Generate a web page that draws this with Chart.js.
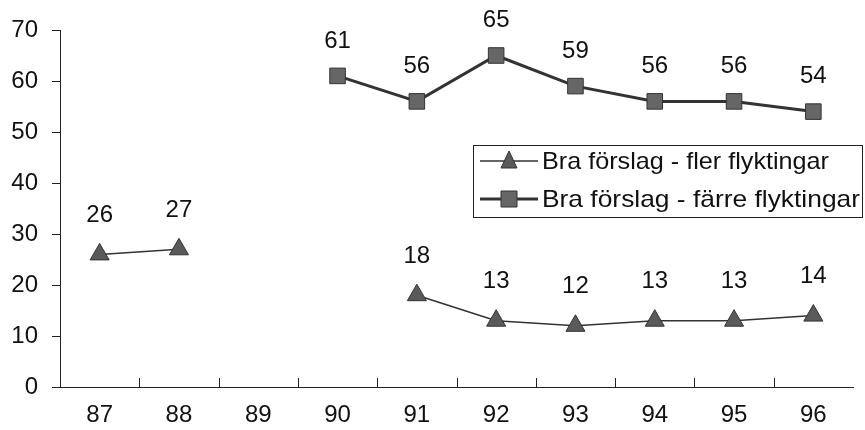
<!DOCTYPE html>
<html>
<head>
<meta charset="utf-8">
<script src="https://cdn.jsdelivr.net/npm/chart.js@4.4.1/dist/chart.umd.min.js"></script>
<style>
  html, body { margin: 0; padding: 0; background: #fff; }
  #wrap { width: 865px; height: 430px; }
</style>
</head>
<body>
<div id="wrap"><canvas id="chart" width="865" height="430"></canvas></div>
<script>
  // ---- data ----
  const years = ["87", "88", "89", "90", "91", "92", "93", "94", "95", "96"];
  const flerValues = [26, 27, null, null, 18, 13, 12, 13, 13, 14];
  const farreValues = [null, null, null, 61, 56, 65, 59, 56, 56, 54];
  const seriesNames = ["Bra förslag - fler flyktingar", "Bra förslag - färre flyktingar"];

  const FONT = "'Liberation Sans', Arial, sans-serif";
  const labelOffsets = [39, 35];

  // value labels above each point
  const valueLabels = {
    id: "valueLabels",
    afterDatasetsDraw(chart) {
      const ctx = chart.ctx;
      ctx.save();
      ctx.font = "24px " + FONT;
      ctx.fillStyle = "#111";
      ctx.textAlign = "center";
      ctx.textBaseline = "middle";
      chart.data.datasets.forEach((ds, i) => {
        const meta = chart.getDatasetMeta(i);
        meta.data.forEach((pt, j) => {
          const v = ds.data[j];
          if (v == null) return;
          ctx.fillText(String(v), pt.x, pt.y - labelOffsets[i]);
        });
      });
      ctx.restore();
    }
  };

  // x-axis tick marks between categories, pointing up
  const xTicks = {
    id: "xTicks",
    afterDraw(chart) {
      const xs = chart.scales.x;
      const bottom = chart.chartArea.bottom;
      const ctx = chart.ctx;
      ctx.save();
      ctx.strokeStyle = "#222";
      ctx.lineWidth = 1;
      for (let i = 1; i < years.length; i++) {
        const px = Math.round((xs.getPixelForValue(i - 1) + xs.getPixelForValue(i)) / 2) + 0.5;
        ctx.beginPath();
        ctx.moveTo(px, bottom);
        ctx.lineTo(px, bottom - 9);
        ctx.stroke();
      }
      ctx.restore();
    }
  };

  // boxed legend inside the plot
  const boxLegend = {
    id: "boxLegend",
    afterDraw(chart) {
      const ctx = chart.ctx;
      const bx = 473, by = 145, bw = 389, bh = 72;
      ctx.save();
      ctx.fillStyle = "#fff";
      ctx.fillRect(bx, by, bw, bh);
      ctx.strokeStyle = "#222";
      ctx.lineWidth = 1;
      ctx.strokeRect(bx + 0.5, by + 0.5, bw, bh);
      const rows = [161, 199];
      chart.data.datasets.forEach((ds, i) => {
        const y = rows[i];
        ctx.strokeStyle = ds.borderColor;
        ctx.lineWidth = ds.borderWidth;
        ctx.beginPath();
        ctx.moveTo(480, y);
        ctx.lineTo(538, y);
        ctx.stroke();
        ctx.fillStyle = ds.pointBackgroundColor;
        ctx.strokeStyle = ds.pointBorderColor;
        ctx.lineWidth = 1;
        ctx.beginPath();
        if (ds.pointStyle === "triangle") {
          ctx.moveTo(509, y - 10);
          ctx.lineTo(517, y + 7);
          ctx.lineTo(501, y + 7);
          ctx.closePath();
        } else {
          ctx.rect(501, y - 8, 16, 16);
        }
        ctx.fill();
        ctx.stroke();
        ctx.fillStyle = "#111";
        ctx.font = "24px " + FONT;
        ctx.textAlign = "left";
        ctx.textBaseline = "middle";
        // stretch text to the legend box width
        const w = ctx.measureText(seriesNames[i]).width;
        const target = i === 0 ? 287 : 318;
        ctx.save();
        ctx.translate(542, y + 1);
        ctx.scale(target / w, 1);
        ctx.fillText(seriesNames[i], 0, 0);
        ctx.restore();
      });
      ctx.restore();
    }
  };

  new Chart(document.getElementById("chart"), {
    type: "line",
    data: {
      labels: years,
      datasets: [
        {
          label: seriesNames[0],
          data: flerValues,
          borderColor: "#333",
          borderWidth: 1.5,
          pointStyle: "triangle",
          pointRadius: 11,
          pointBackgroundColor: "#5a5a5a",
          pointBorderColor: "#333",
          pointBorderWidth: 1,
          spanGaps: false,
          tension: 0
        },
        {
          label: seriesNames[1],
          data: farreValues,
          borderColor: "#333",
          borderWidth: 3,
          pointStyle: "rect",
          pointRadius: 11,
          pointBackgroundColor: "#666",
          pointBorderColor: "#333",
          pointBorderWidth: 1,
          spanGaps: false,
          tension: 0
        }
      ]
    },
    options: {
      responsive: false,
      animation: false,
      devicePixelRatio: 1,
      layout: { padding: { top: 30, right: 8, left: 0, bottom: 0 } },
      plugins: {
        legend: { display: false },
        tooltip: { enabled: false }
      },
      scales: {
        x: {
          offset: true,
          grid: { display: false, drawOnChartArea: false },
          border: { display: true, color: "#222", width: 1 },
          ticks: { color: "#111", font: { size: 24, family: FONT }, padding: 6 },
          afterFit: (s) => { s.height = 43; }
        },
        y: {
          min: 0,
          max: 70,
          ticks: { stepSize: 10, color: "#111", font: { size: 24, family: FONT }, padding: 14 },
          grid: { drawOnChartArea: false, tickLength: 8, color: "#222" },
          border: { display: true, color: "#222", width: 1 },
          afterFit: (s) => { s.width = 60; }
        }
      }
    },
    plugins: [valueLabels, xTicks, boxLegend]
  });
</script>
</body>
</html>
